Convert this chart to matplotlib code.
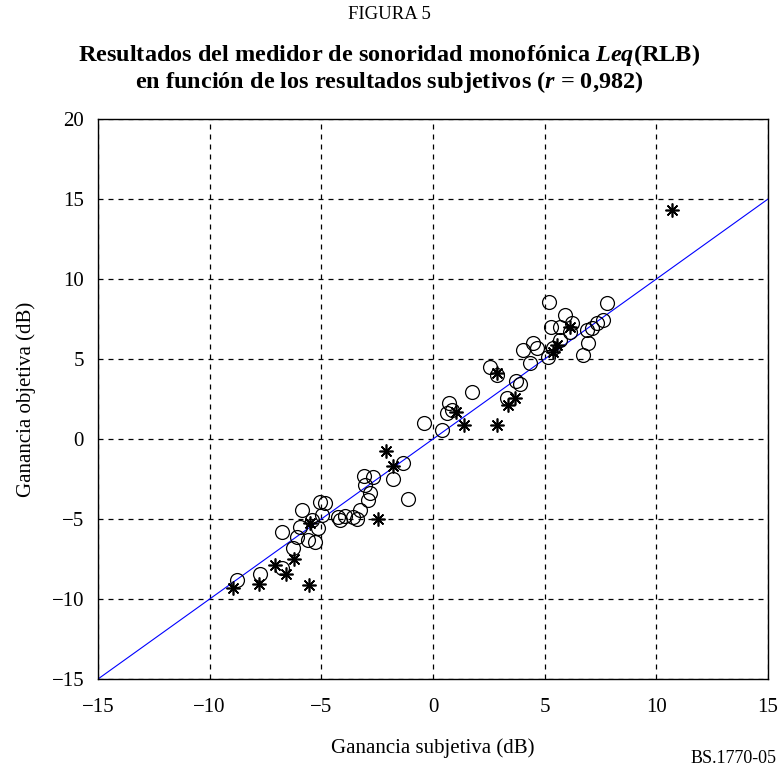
import numpy as np
import matplotlib
matplotlib.use("Agg")
import matplotlib.pyplot as plt

plt.rcParams['font.family'] = ['Liberation Serif', 'DejaVu Serif']
plt.rcParams['mathtext.fontset'] = 'custom'
plt.rcParams['mathtext.rm'] = 'Liberation Serif'
plt.rcParams['mathtext.it'] = 'Liberation Serif:italic'
plt.rcParams['mathtext.bf'] = 'Liberation Serif:bold'
plt.rcParams['mathtext.bfit'] = 'Liberation Serif:italic:bold'

# open circles (subjective gain, objective gain)
circ_x = [-8.78, -7.75, -6.76, -6.76, -5.87, -6.27, -5.60, -5.28, -6.10, -5.96,
          -5.42, -5.15, -5.06, -4.84, -4.97, -4.25, -4.16, -3.94, -3.58, -3.40,
          -3.27, -2.91, -2.82, -3.05, -3.09, -2.69, -1.79, -1.34, -1.12, -0.40,
          0.40, 0.72, 0.85, 0.63, 1.75, 2.55, 2.87, 3.30, 3.72, 3.90,
          4.03, 4.48, 4.66, 4.34, 5.19, 5.28, 5.69, 5.91, 6.22, 6.14,
          6.90, 7.12, 7.34, 7.79, 6.94, 6.72, 5.37, 5.15, 5.69, 7.60]
circ_y = [-8.81, -8.44, -8.06, -5.81, -4.44, -6.81, -6.31, -6.44, -6.10, -5.50,
          -5.06, -5.56, -3.94, -4.00, -4.75, -4.88, -5.06, -4.81, -4.88, -5.00,
          -4.44, -3.81, -3.38, -2.88, -2.31, -2.38, -2.50, -1.50, -3.75, 1.00,
          0.56, 2.25, 1.81, 1.63, 2.94, 4.50, 4.00, 2.56, 3.63, 3.44,
          5.56, 6.00, 5.69, 4.75, 8.56, 7.00, 7.00, 7.75, 7.25, 6.69,
          6.81, 6.94, 7.25, 8.50, 6.00, 5.25, 5.69, 5.13, 6.19, 7.44]

# asterisks
star_x = [-8.96, -7.79, -7.08, -6.58, -6.22, -5.55, -2.10, -1.79, -2.46, 1.03,
          1.39, 2.87, 2.87, 3.36, 3.67, 10.70, 5.37, 5.55, 6.14, -5.50]
star_y = [-9.31, -9.06, -7.88, -8.44, -7.50, -9.13, -0.75, -1.69, -5.00, 1.69,
          0.88, 0.88, 4.13, 2.13, 2.56, 14.30, 5.44, 5.88, 7.00, -5.25]

ticks_x = [-15, -10, -5, 0, 5, 10, 15]
ticks_y = [-15, -10, -5, 0, 5, 10, 15, 20]

fig = plt.figure(figsize=(7.79, 7.71), dpi=100)
ax = fig.add_axes([0.1258, 0.1193, 0.8602, 0.7264])

ax.plot([-15, 15], [-15, 15], color='blue', lw=0.8, zorder=2)
ax.plot(circ_x, circ_y, linestyle='none', marker='o', ms=10,
        mfc='none', mec='black', mew=0.9, zorder=3)
ax.plot(star_x, star_y, linestyle='none', marker=(8, 2, 0), ms=10,
        color='black', mew=1.2, zorder=4)

ax.set_xlim(-15, 15)
ax.set_ylim(-15, 20)
ax.set_xticks(ticks_x)
ax.set_yticks(ticks_y)
ax.tick_params(labelsize=15, length=0, pad=10)
ax.tick_params(axis='x', pad=14)
ax.grid(True, color='black', linestyle=(0, (4, 4)), lw=0.9)
for s in ax.spines.values():
    s.set_linewidth(1.0)

ax.set_xlabel("Ganancia subjetiva (dB)", fontsize=15, labelpad=15)
ax.set_ylabel("Ganancia objetiva (dB)", fontsize=15, labelpad=11)

fig.text(0.5, 0.981, "FIGURA 5", ha='center', va='center', fontsize=13.5)
fig.text(0.5, 0.929, r"Resultados del medidor de sonoridad monofónica $\mathbfit{Leq}$(RLB)",
         ha='center', va='center', fontsize=17.5, fontweight='bold')
fig.text(0.5, 0.893, r"en función de los resultados subjetivos ($\mathbfit{r}$ = 0,982)",
         ha='center', va='center', fontsize=17.5, fontweight='bold')
fig.text(0.941, 0.016, "BS.1770-05", ha='center', va='center', fontsize=13)

fig.savefig("out.png", dpi=100)
